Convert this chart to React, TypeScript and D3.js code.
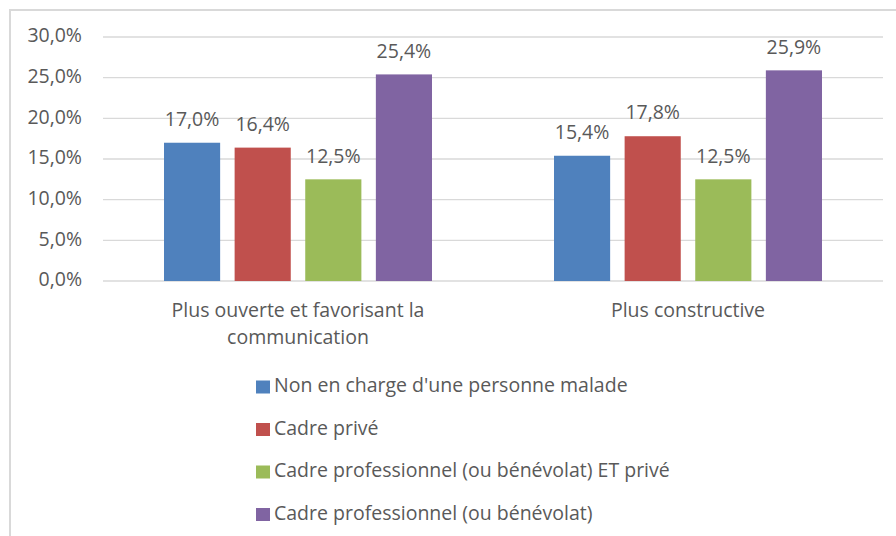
import React from "react";
import * as d3 from "d3";

const categories = ["Plus ouverte et favorisant la\ncommunication", "Plus constructive"];
const seriesNames = [
  "Non en charge d'une personne malade",
  "Cadre privé",
  "Cadre professionnel (ou bénévolat) ET privé",
  "Cadre professionnel (ou bénévolat)",
];
const seriesColors = ["#4F81BD", "#C0504D", "#9BBB59", "#8064A2"];
const values = [
  [17.0, 15.4],
  [16.4, 17.8],
  [12.5, 12.5],
  [25.4, 25.9],
];
const yTicks = [0, 5, 10, 15, 20, 25, 30];

const W = 896;
const H = 536;
const FONT = "'Open Sans', sans-serif";
const TEXT = "#595959";
const FS = 19.5;

export default function App() {
  const left = 103;
  const right = 883;
  const top = 37;
  const bottom = 281;
  const y = d3.scaleLinear().domain([0, 30]).range([bottom, top]);
  const x0 = d3.scaleBand().domain(categories).range([left, right]).padding(0);
  const groupPad = 61;
  const x1 = d3
    .scaleBand()
    .domain(seriesNames)
    .range([groupPad, x0.bandwidth() - groupPad])
    .paddingInner(0.205)
    .paddingOuter(0);
  const fmt = (v: number) => v.toFixed(1).replace(".", ",") + "%";

  return (
    <svg
      width={W}
      height={H}
      style={{ position: "absolute", left: 0, top: 0, background: "#fff" }}
      fontFamily={FONT}
    >
      <rect x={10} y={10} width={W + 20} height={H + 20} fill="#fff" stroke="#D9D9D9" strokeWidth={2} />
      {yTicks.map((t) => (
        <g key={t}>
          <line x1={left} x2={right} y1={y(t)} y2={y(t)} stroke="#D9D9D9" strokeWidth={1.3} />
          <text x={82} y={y(t)} textAnchor="end" dominantBaseline="middle" fontSize={FS} fill={TEXT}>
            {fmt(t)}
          </text>
        </g>
      ))}
      {seriesNames.map((s, si) =>
        categories.map((c, ci) => {
          const v = values[si][ci];
          const bx = (x0(c) as number) + (x1(s) as number);
          const bw = x1.bandwidth();
          return (
            <g key={s + c}>
              <rect x={bx} y={y(v)} width={bw} height={y(0) - y(v)} fill={seriesColors[si]} />
              <text
                x={bx + bw / 2}
                y={y(v) - 22}
                textAnchor="middle"
                dominantBaseline="middle"
                fontSize={FS}
                fill={TEXT}
              >
                {fmt(v)}
              </text>
            </g>
          );
        })
      )}
      {categories.map((c) => {
        const lines = c.split("\n");
        const cx = (x0(c) as number) + x0.bandwidth() / 2;
        return (
          <text key={c} x={cx} textAnchor="middle" fontSize={FS} fill={TEXT}>
            {lines.map((l, i) => (
              <tspan key={i} x={cx} y={312 + i * 26.5} dominantBaseline="middle">
                {l}
              </tspan>
            ))}
          </text>
        );
      })}
      {seriesNames.map((s, i) => {
        const ly = 387 + i * 42.5;
        return (
          <g key={s}>
            <rect x={256} y={ly - 6.5} width={14} height={13} fill={seriesColors[i]} />
            <text x={274} y={ly} dominantBaseline="middle" fontSize={FS} fill={TEXT}>
              {s}
            </text>
          </g>
        );
      })}
    </svg>
  );
}
